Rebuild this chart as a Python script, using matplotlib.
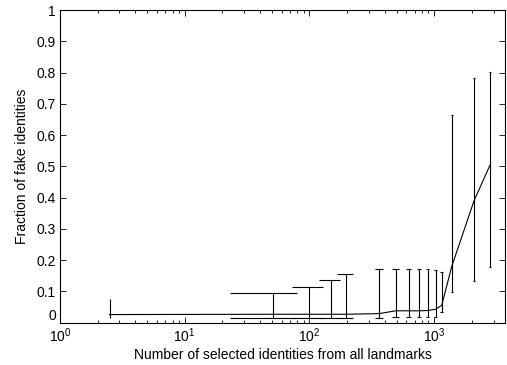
import numpy as np
import matplotlib
matplotlib.use("Agg")
import matplotlib.pyplot as plt
from matplotlib.transforms import ScaledTranslation

plt.rcParams["font.family"] = ["Liberation Sans", "DejaVu Sans"]
plt.rcParams["mathtext.fontset"] = "custom"
plt.rcParams["mathtext.rm"] = "Liberation Sans"
plt.rcParams["mathtext.it"] = "Liberation Sans"

# number of selected identities
n_ids = np.array([2.5, 51, 100, 148, 195, 362, 490, 626, 757, 889, 1030, 1151, 1384, 2089, 2805])
# mean fraction of fake identities
frac_mean = np.array([0.026, 0.027, 0.027, 0.027, 0.027, 0.029, 0.038, 0.038, 0.038, 0.039,
                      0.043, 0.056, 0.18, 0.39, 0.504])
frac_upper = np.array([0.076, 0.096, 0.115, 0.136, 0.157, 0.173, 0.173, 0.173, 0.173, 0.173,
                       0.168, 0.161, 0.663, 0.782, 0.802])
frac_lower = np.array([0.014, 0.014, 0.014, 0.014, 0.014, 0.014, 0.019, 0.019, 0.019, 0.019,
                       0.019, 0.033, 0.097, 0.134, 0.178])

fig = plt.figure(figsize=(5.07, 3.65), dpi=100)
ax = fig.add_axes([0.1183, 0.1159, 0.8782, 0.8567])
ax.set_xscale("log", nonpositive="mask")

LW = 0.8
ax.plot(n_ids, frac_mean, color="black", lw=LW)
ax.vlines(n_ids, frac_lower, frac_upper, color="black", lw=LW)

# matlab-style caps: width in linear data units, dropped when they cross zero
tee = (n_ids.max() - n_ids.min()) / 100
ok = (n_ids - tee) > 0
ax.hlines(frac_upper[ok], (n_ids - tee)[ok], (n_ids + tee)[ok], color="black", lw=LW)
ax.hlines(frac_lower[ok], (n_ids - tee)[ok], (n_ids + tee)[ok], color="black", lw=LW)

ax.set_xlim(1, 3715)
ax.set_ylim(0, 1)
ax.set_yticks(np.arange(0, 1.01, 0.1))
ax.set_yticklabels(["0", "0.1", "0.2", "0.3", "0.4", "0.5", "0.6", "0.7", "0.8", "0.9", "1"])
ax.set_xticks([1, 10, 100, 1000])
ax.tick_params(which="both", direction="in", top=True, right=True, labelsize=10, width=0.6)
ax.tick_params(which="major", length=4)
ax.tick_params(which="minor", length=2.5)
ax.tick_params(axis="x", which="major", pad=3)
ax.tick_params(axis="y", which="major", pad=3)
for s in ax.spines.values():
    s.set_linewidth(0.8)

# matlab lifts the "0" label so it clears the x tick labels
zero_lbl = ax.get_yticklabels()[0]
zero_lbl.set_transform(zero_lbl.get_transform() + ScaledTranslation(0, 0.08, fig.dpi_scale_trans))

ax.set_xlabel("Number of selected identities from all landmarks", fontsize=10, labelpad=1.5)
ax.set_ylabel("Fraction of fake identities", fontsize=10, labelpad=5)

fig.savefig("out.png", dpi=100)
